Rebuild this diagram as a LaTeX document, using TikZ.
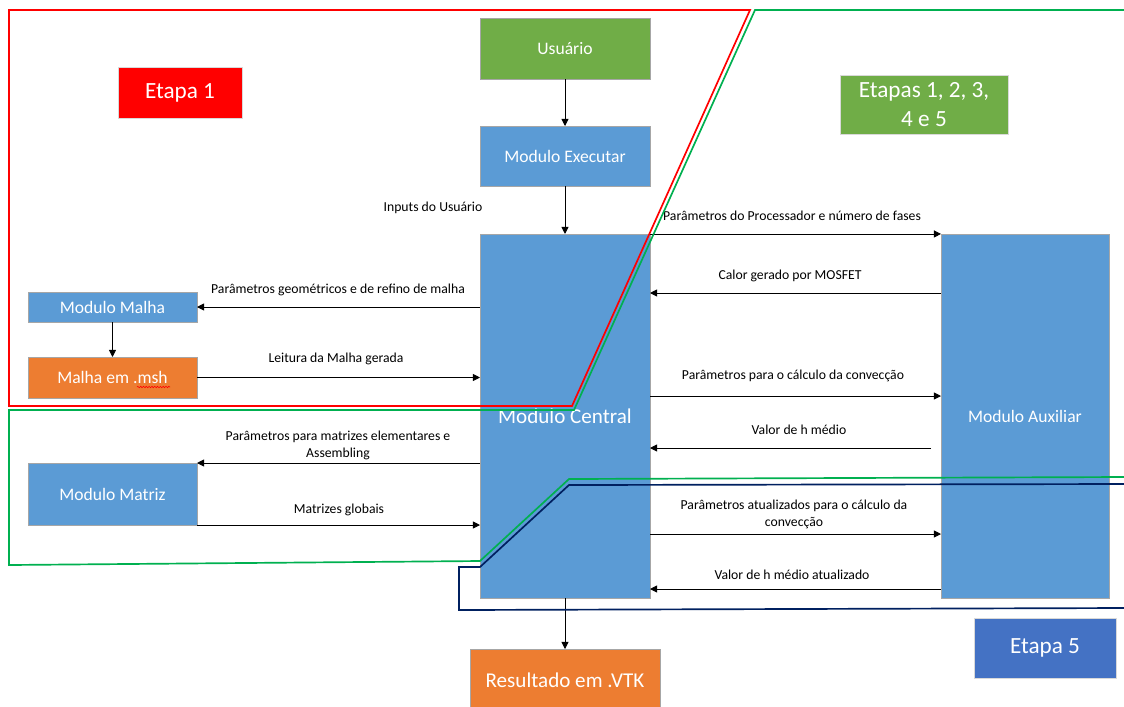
\documentclass[tikz,border=0pt]{standalone}
\usepackage{fontspec}
\setmainfont{Carlito}
\usepackage{tikz}
\usetikzlibrary{arrows.meta}
\usetikzlibrary{decorations.pathmorphing}

\definecolor{boxblue}{HTML}{5B9BD5}
\definecolor{boxgreen}{HTML}{70AD47}
\definecolor{boxorange}{HTML}{ED7D31}
\definecolor{boxdeep}{HTML}{4472C4}
\definecolor{linered}{HTML}{FF0000}
\definecolor{linegreen}{HTML}{00B050}
\definecolor{linenavy}{HTML}{002060}

\begin{document}
\begin{tikzpicture}[x=0.025cm, y=-0.025cm]
                \tikzstyle{block} = [rectangle, draw=black!35, line width=0.5pt, fill=boxblue, text=white, inner sep=0pt, outer sep=0pt, font=\fontsize{12.5}{15}\selectfont]
                \tikzstyle{tag} = [rectangle, draw=white!85!black, line width=0.4pt, text=white, inner sep=0pt, outer sep=0pt, align=center, font=\fontsize{16.5}{21}\selectfont]
                \tikzstyle{lbl} = [inner sep=0pt, align=center, font=\fontsize{9.75}{12}\selectfont]
                \tikzstyle{link} = [draw, line width=0.6pt, -{Triangle[length=5pt,width=5pt]}]
                \tikzstyle{zone} = [line width=1.2pt, line join=miter]
                \useasboundingbox (0,0) rectangle (1124,706);
                %%Blocks
                \node [block, fill=boxgreen, minimum width=4.25cm, minimum height=1.525cm](usr) at (565, 48.5) {Usuário};
                \node [block, minimum width=4.25cm, minimum height=1.5cm](exe) at (565, 156) {Modulo Executar};
                \node [block, minimum width=4.25cm, minimum height=9.1cm, font=\fontsize{15}{18}\selectfont](cen) at (565, 416) {Modulo Central};
                \node [block, minimum width=4.2cm, minimum height=9.1cm](aux) at (1025, 416) {Modulo Auxiliar};
                \node [block, minimum width=4.225cm, minimum height=0.75cm](mal) at (112.5, 307) {Modulo Malha};
                \node [block, fill=boxorange, minimum width=4.225cm, minimum height=1.025cm](msh) at (112.5, 377.5) {Malha em .msh};
                \node [block, minimum width=4.225cm, minimum height=1.55cm](mat) at (112.5, 494) {Modulo Matriz};
                \node [block, fill=boxorange, minimum width=4.75cm, minimum height=1.55cm, font=\fontsize{15}{18}\selectfont](res) at (565, 680) {Resultado em .VTK};
                %%Stage tags
                \node [tag, fill=linered, minimum width=3.1cm, minimum height=1.275cm](et1) at (180, 92.5) {Etapa 1};
                \node [tag, fill=boxgreen, minimum width=4.2cm, minimum height=1.475cm](et15) at (924, 104.5) {Etapas 1, 2, 3,\\4 e 5};
                \node [tag, fill=boxdeep, minimum width=3.55cm, minimum height=1.5cm](et5) at (1045, 648) {Etapa 5};
                \draw [linered, line width=0.4pt, decorate, decoration={snake, amplitude=0.5pt, segment length=2pt}] (137, 387) -- (170, 387);
                %%Edges
                \draw [link] (usr)--(exe);
                \draw [link] (exe)--(cen);
                \draw [link] (cen)--(res);
                \draw [link] (mal)--(msh);
                \draw [link] (cen.west |- mal.east)--(mal.east);
                \draw [link] (msh.east)--(cen.west |- msh.east);
                \draw [link] (cen.west |- mat.north east)--(mat.north east);
                \draw [link] (mat.south east)--(cen.west |- mat.south east);
                \draw [link] (cen.north east)--(aux.north west);
                \draw [link] (aux.west |- 0,293)--(cen.east |- 0,293);
                \draw [link] (cen.east |- 0,396)--(aux.west |- 0,396);
                \coordinate (hm) at (931, 448);
                \draw [link] (hm)--(cen.east |- hm);
                \draw [link] (cen.east |- 0,534)--(aux.west |- 0,534);
                \draw [link] (aux.west |- 0,589)--(cen.east |- 0,589);
                %%Edge labels
                \node [lbl](linp) at (433, 208) {Inputs do Usuário};
                \node [lbl](lgeo) at (338, 290) {Parâmetros geométricos e de refino de malha};
                \node [lbl](llei) at (336, 359) {Leitura da Malha gerada};
                \node [lbl](lmat) at (338, 445.5) {Parâmetros para matrizes elementares e\\Assembling};
                \node [lbl](lglo) at (339, 510) {Matrizes globais};
                \node [lbl](lpro) at (792, 216) {Parâmetros do Processador e número de fases};
                \node [lbl](lcal) at (790, 276) {Calor gerado por MOSFET};
                \node [lbl](lcon) at (793, 376) {Parâmetros para o cálculo da convecção};
                \node [lbl](lhm) at (799, 430) {Valor de h médio};
                \node [lbl](latu) at (794, 514.5) {Parâmetros atualizados para o cálculo da\\convecção};
                \node [lbl](lhma) at (792, 575) {Valor de h médio atualizado};
                %%Stage outlines
                \draw [zone, linered] (9, 10)--(750, 10)--(572, 406)--(9, 406)--cycle;
                \draw [zone, linegreen] (1124, 10)--(755, 10)--(574, 410)--(9, 410)--(9, 565)--(480, 561)--(569, 479)--(1124, 477);
                \draw [zone, linenavy] (1124, 484)--(569, 485)--(480, 567)--(459, 567)--(459, 610)--(1124, 608);
\end{tikzpicture}
\end{document}
